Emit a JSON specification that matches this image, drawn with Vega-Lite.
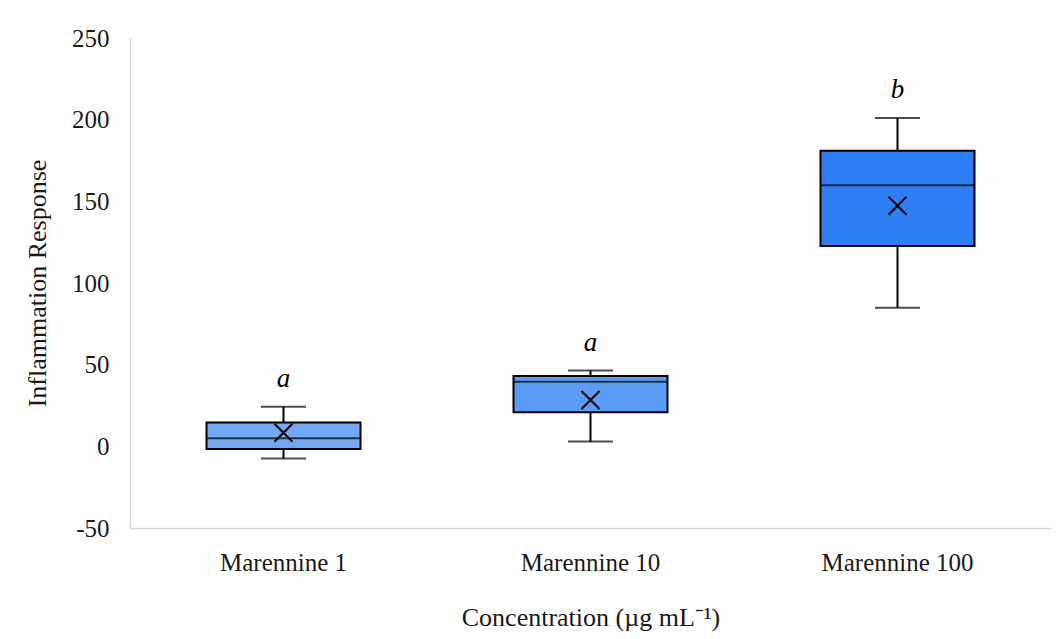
{
  "$schema": "https://vega.github.io/schema/vega-lite/v6.json",
  "autosize": "none",
  "width": 921,
  "height": 490,
  "padding": {"left": 130, "top": 38, "right": 9, "bottom": 111},
  "background": "white",
  "data": {
    "values": [
      {"group": "Marennine 1", "min": -7.5, "q1": -1.7, "median": 5.0, "q3": 14.6, "max": 24.3, "mean": 8.3, "letter": "a"},
      {"group": "Marennine 10", "min": 2.9, "q1": 20.9, "median": 39.6, "q3": 43.1, "max": 46.4, "mean": 28.4, "letter": "a"},
      {"group": "Marennine 100", "min": 84.9, "q1": 122.6, "median": 159.8, "q3": 180.9, "max": 201.0, "mean": 147.3, "letter": "b"}
    ]
  },
  "encoding": {
    "x": {
      "field": "group",
      "type": "nominal",
      "sort": null,
      "scale": {"paddingInner": 0, "paddingOuter": 0},
      "axis": {
        "title": "Concentration (µg mL⁻¹)",
        "labelAngle": 0,
        "ticks": false,
        "domainColor": "#d9d9d9",
        "domainWidth": 1.5,
        "labelPadding": 22,
        "titlePadding": 29
      }
    }
  },
  "layer": [
    {
      "mark": {"type": "rule", "stroke": "black", "strokeWidth": 2},
      "encoding": {
        "y": {"field": "min", "type": "quantitative", "scale": {"domain": [-50, 250], "nice": false}, "axis": {
          "title": "Inflammation Response",
          "values": [-50, 0, 50, 100, 150, 200, 250],
          "labelExpr": "'' + datum.value",
          "grid": false,
          "ticks": false,
          "domainColor": "#d9d9d9",
          "domainWidth": 1.5,
          "labelPadding": 21,
          "titlePadding": 21
        }},
        "y2": {"field": "max"}
      }
    },
    {
      "mark": {"type": "bar", "size": 154, "stroke": "black", "strokeWidth": 2},
      "encoding": {
        "y": {"field": "q1", "type": "quantitative"},
        "y2": {"field": "q3"},
        "color": {
          "field": "group",
          "type": "nominal",
          "scale": {"domain": ["Marennine 1", "Marennine 10", "Marennine 100"], "range": ["#72a9f4", "#5a9bf6", "#2e7ff6"]},
          "legend": null
        }
      }
    },
    {
      "mark": {"type": "tick", "size": 154, "thickness": 2, "color": "black", "orient": "horizontal"},
      "encoding": {"y": {"field": "median", "type": "quantitative"}}
    },
    {
      "mark": {"type": "tick", "size": 45, "thickness": 2, "color": "black", "orient": "horizontal"},
      "encoding": {"y": {"field": "min", "type": "quantitative"}}
    },
    {
      "mark": {"type": "tick", "size": 45, "thickness": 2, "color": "black", "orient": "horizontal"},
      "encoding": {"y": {"field": "max", "type": "quantitative"}}
    },
    {
      "mark": {"type": "point", "shape": "M-1,-1L1,1M-1,1L1,-1", "size": 324, "filled": false, "stroke": "black", "strokeWidth": 2, "opacity": 1},
      "encoding": {"y": {"field": "mean", "type": "quantitative"}}
    },
    {
      "mark": {"type": "text", "font": "Liberation Serif", "fontSize": 27, "fontStyle": "italic", "color": "black", "baseline": "middle", "dy": -28},
      "encoding": {
        "y": {"field": "max", "type": "quantitative"},
        "text": {"field": "letter"}
      }
    }
  ],
  "config": {
    "view": {"stroke": null},
    "axis": {
      "labelFont": "Liberation Serif",
      "labelFontSize": 25,
      "labelColor": "#1a1a1a",
      "titleFont": "Liberation Serif",
      "titleFontSize": 26,
      "titleFontWeight": "normal",
      "titleColor": "#1a1a1a"
    }
  }
}
